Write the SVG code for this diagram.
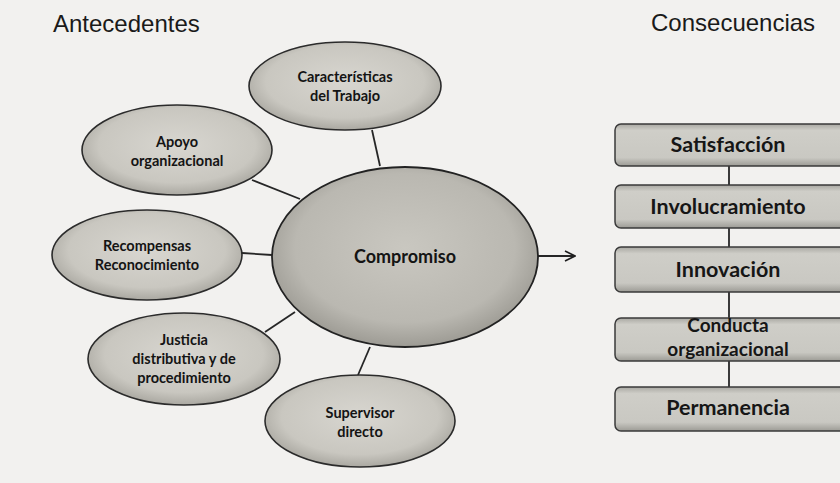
<svg xmlns="http://www.w3.org/2000/svg" width="840" height="483" viewBox="0 0 840 483">
  <defs>
    <radialGradient id="ovalFill" cx="50%" cy="45%" r="55%">
      <stop offset="0" stop-color="#d8d6d0"/>
      <stop offset="0.75" stop-color="#c9c7c0"/>
      <stop offset="1" stop-color="#aaa8a1"/>
    </radialGradient>
    <radialGradient id="coreFill" cx="50%" cy="45%" r="55%">
      <stop offset="0" stop-color="#c9c7c0"/>
      <stop offset="0.75" stop-color="#bab8b1"/>
      <stop offset="1" stop-color="#9d9b94"/>
    </radialGradient>
    <linearGradient id="boxFill" x1="0" y1="0" x2="0" y2="1">
      <stop offset="0" stop-color="#a9a8a2"/>
      <stop offset="0.15" stop-color="#cfcec8"/>
      <stop offset="0.8" stop-color="#c9c8c2"/>
      <stop offset="1" stop-color="#9c9b95"/>
    </linearGradient>
    <marker id="openArrow" viewBox="0 0 12 12" refX="11" refY="6" markerWidth="12" markerHeight="12" markerUnits="userSpaceOnUse" orient="auto">
      <path d="M1,1 L11,6 L1,11" fill="none" stroke="#1e1e1e" stroke-width="1.6"/>
    </marker>
  </defs>
  <style>
    .title { font-family: "Liberation Sans", Arial, sans-serif; font-size: 24px; fill: #1a1a1a; }
    .oval { fill: url(#ovalFill); stroke: #2b2b2b; stroke-width: 1.6; }
    .core { fill: url(#coreFill); stroke: #222; stroke-width: 1.8; }
    .box { fill: url(#boxFill); stroke: #3a3a3a; stroke-width: 1.5; }
    .lbl { font-family: Lato, "Open Sans", sans-serif; font-weight: 700; font-size: 14.5px; fill: #141414; text-anchor: middle; }
    .corelbl { font-family: Lato, "Open Sans", sans-serif; font-weight: 700; font-size: 18px; fill: #141414; text-anchor: middle; }
    .boxlbl { font-family: Lato, "Open Sans", sans-serif; font-weight: 700; font-size: 21.5px; fill: #161616; text-anchor: middle; }
    .boxlbl.two { font-size: 19px; }
    .link { stroke: #262626; stroke-width: 1.8; fill: none; }
  </style>

  <rect width="840" height="483" fill="#f2f1ef"/>

  <text class="title" x="53" y="32">Antecedentes</text>
  <text class="title" x="651" y="31">Consecuencias</text>

  <g id="connectors">
    <line class="link" x1="372" y1="130" x2="380" y2="166"/>
    <line class="link" x1="252" y1="180" x2="300" y2="199"/>
    <line class="link" x1="242" y1="253" x2="272" y2="255"/>
    <line class="link" x1="265" y1="332" x2="295" y2="312"/>
    <line class="link" x1="358" y1="375" x2="370" y2="347"/>
    <line class="link" x1="538" y1="256" x2="575" y2="256" marker-end="url(#openArrow)"/>
    <line class="link" x1="729" y1="166" x2="729" y2="185" stroke-width="1.4"/>
    <line class="link" x1="729" y1="228" x2="729" y2="247" stroke-width="1.4"/>
    <line class="link" x1="729" y1="292" x2="729" y2="318" stroke-width="1.4"/>
    <line class="link" x1="729" y1="361" x2="729" y2="387" stroke-width="1.4"/>
  </g>

  <g id="caracteristicas">
    <ellipse class="oval" cx="345" cy="86" rx="96" ry="44"/>
    <text class="lbl" x="345" y="82">Características</text>
    <text class="lbl" x="345" y="101">del Trabajo</text>
  </g>

  <g id="apoyo">
    <ellipse class="oval" cx="177" cy="150" rx="95" ry="45"/>
    <text class="lbl" x="177" y="147">Apoyo</text>
    <text class="lbl" x="177" y="166">organizacional</text>
  </g>

  <g id="recompensas">
    <ellipse class="oval" cx="147" cy="255" rx="95" ry="45"/>
    <text class="lbl" x="147" y="251">Recompensas</text>
    <text class="lbl" x="147" y="270">Reconocimiento</text>
  </g>

  <g id="justicia">
    <ellipse class="oval" cx="184" cy="359" rx="96" ry="46"/>
    <text class="lbl" x="184" y="345">Justicia</text>
    <text class="lbl" x="184" y="364">distributiva y de</text>
    <text class="lbl" x="184" y="383">procedimiento</text>
  </g>

  <g id="supervisor">
    <ellipse class="oval" cx="360" cy="421" rx="95" ry="46"/>
    <text class="lbl" x="360" y="418">Supervisor</text>
    <text class="lbl" x="360" y="437">directo</text>
  </g>

  <g id="compromiso">
    <ellipse class="core" cx="405" cy="257" rx="133" ry="90"/>
    <text class="corelbl" x="405" y="263">Compromiso</text>
  </g>

  <g id="satisfaccion">
    <rect class="box" x="615" y="124" width="240" height="42" rx="6"/>
    <text class="boxlbl" x="728" y="152">Satisfacción</text>
  </g>

  <g id="involucramiento">
    <rect class="box" x="615" y="185" width="240" height="43" rx="6"/>
    <text class="boxlbl" x="728" y="214">Involucramiento</text>
  </g>

  <g id="innovacion">
    <rect class="box" x="615" y="247" width="240" height="45" rx="6"/>
    <text class="boxlbl" x="728" y="277">Innovación</text>
  </g>

  <g id="conducta">
    <rect class="box" x="615" y="318" width="240" height="43" rx="6"/>
    <text class="boxlbl two" x="728" y="332">Conducta</text>
    <text class="boxlbl two" x="728" y="356">organizacional</text>
  </g>

  <g id="permanencia">
    <rect class="box" x="615" y="387" width="240" height="44" rx="6"/>
    <text class="boxlbl" x="728" y="415">Permanencia</text>
  </g>
</svg>
